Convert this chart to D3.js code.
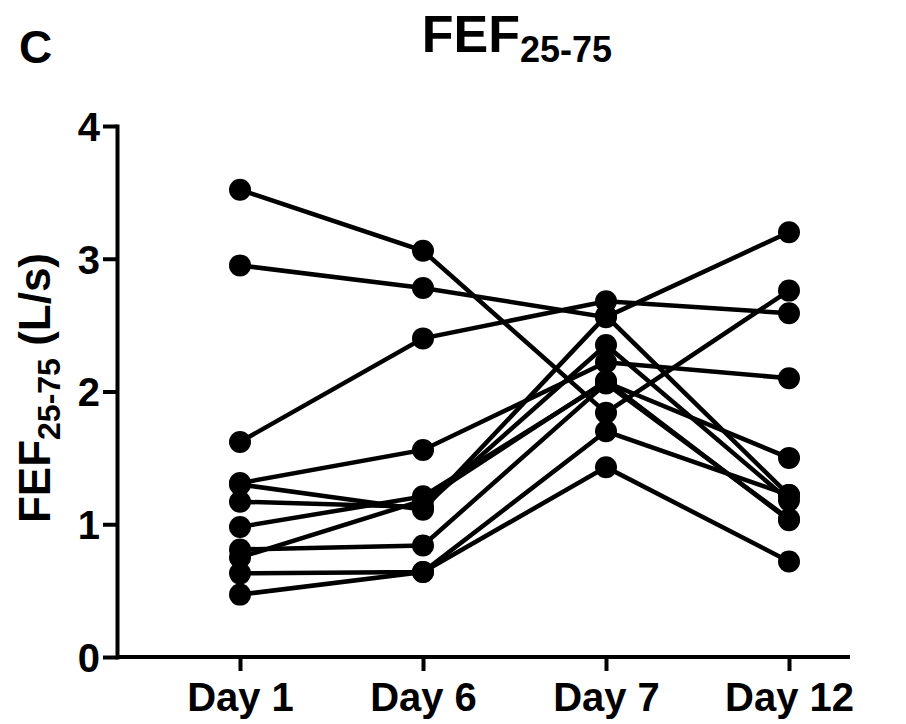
<!DOCTYPE html>
<html>
<head>
<meta charset="utf-8">
<script src="https://cdn.jsdelivr.net/npm/d3@7"></script>
<style>
  body { margin: 0; background: #fff; }
  text { font-family: "Liberation Sans", Arial, sans-serif; font-weight: bold; fill: #000; }
</style>
</head>
<body>
<div id="chart"></div>
<script>
// Chart size
const width = 906;
const height = 724;

// Data, one value per subject per day
const days = ["Day 1", "Day 6", "Day 7", "Day 12"];
const s1 = [3.52, 3.06, 1.84, 2.76];
const s2 = [2.95, 2.78, 2.56, 3.20];
const s3 = [1.62, 2.40, 2.68, 2.59];
const s4 = [1.31, 1.56, 2.22, 2.10];
const s5 = [1.30, 1.11, 2.57, 1.22];
const s6 = [1.17, 1.13, 2.35, 1.18];
const s7 = [0.98, 1.21, 2.07, 1.50];
const s8 = [0.75, 1.18, 2.08, 1.03];
const s9 = [0.81, 0.84, 2.06, 1.04];
const s10 = [0.63, 0.64, 1.70, 1.22];
const s11 = [0.47, 0.64, 1.43, 0.72];
const yTicks = [0, 1, 2, 3, 4];

const subjects = [s1, s2, s3, s4, s5, s6, s7, s8, s9, s10, s11];

let svg = d3.select("#chart").append("svg")
            .attr("width", width)
            .attr("height", height)

let x = d3.scalePoint().domain(days).range([240, 789])
let y = d3.scaleLinear().domain([0, 4]).range([657, 126])

// y axis
let yAxis = svg.append("g")
    .attr("transform", "translate(117,0)")
    .call(d3.axisLeft(y).tickValues(yTicks).tickFormat(d3.format("d"))
            .tickSize(14).tickSizeOuter(0).tickPadding(3))
yAxis.select(".domain").attr("stroke-width", 4).attr("stroke-linecap", "square")
yAxis.selectAll(".tick line").attr("stroke-width", 4)
yAxis.selectAll(".tick text").style("font-size", "40px").attr("dy", "0.36em")

// x axis, line drawn separately so it runs past the last day
svg.append("line")
   .attr("x1", 117).attr("x2", 850)
   .attr("y1", y(0)).attr("y2", y(0))
   .attr("stroke", "black")
   .attr("stroke-width", 4)

let xAxis = svg.append("g")
    .attr("transform", "translate(0," + y(0) + ")")
    .call(d3.axisBottom(x).tickSize(14).tickSizeOuter(0).tickPadding(8))
xAxis.select(".domain").remove()
xAxis.selectAll(".tick line").attr("stroke-width", 4)
xAxis.selectAll(".tick text").style("font-size", "40px").attr("dy", "0.8em")

// lines, one per subject
let line = d3.line()
    .x(function(d, i) { return x(days[i]) })
    .y(function(d) { return y(d) })

svg.append("g").selectAll("path")
   .data(subjects)
   .enter().append("path")
   .attr("d", line)
   .attr("fill", "none")
   .attr("stroke", "black")
   .attr("stroke-width", 4.5)

// points
let pts = svg.append("g")
subjects.forEach(function(s) {
    pts.selectAll(null)
       .data(s)
       .enter().append("circle")
       .attr("cx", function(d, i) { return x(days[i]) })
       .attr("cy", function(d) { return y(d) })
       .attr("r", 11)
       .attr("fill", "black")
})

// panel letter
svg.append("text")
   .attr("x", 19).attr("y", 63)
   .style("font-size", "46px")
   .text("C")

// title with subscript
let title = svg.append("text")
   .attr("x", 517).attr("y", 52)
   .attr("text-anchor", "middle")
   .style("font-size", "52px")
title.append("tspan").text("FEF")
title.append("tspan").attr("dy", 10).style("font-size", "36px").text("25-75")

// y axis label
let ylab = svg.append("text")
   .attr("transform", "translate(50,388) rotate(-90)")
   .attr("text-anchor", "middle")
   .style("font-size", "44px")
ylab.append("tspan").text("FEF")
ylab.append("tspan").attr("dy", 10).style("font-size", "32px").text("25-75")
ylab.append("tspan").attr("dy", -10).text(" (L/s)")
</script>
</body>
</html>
